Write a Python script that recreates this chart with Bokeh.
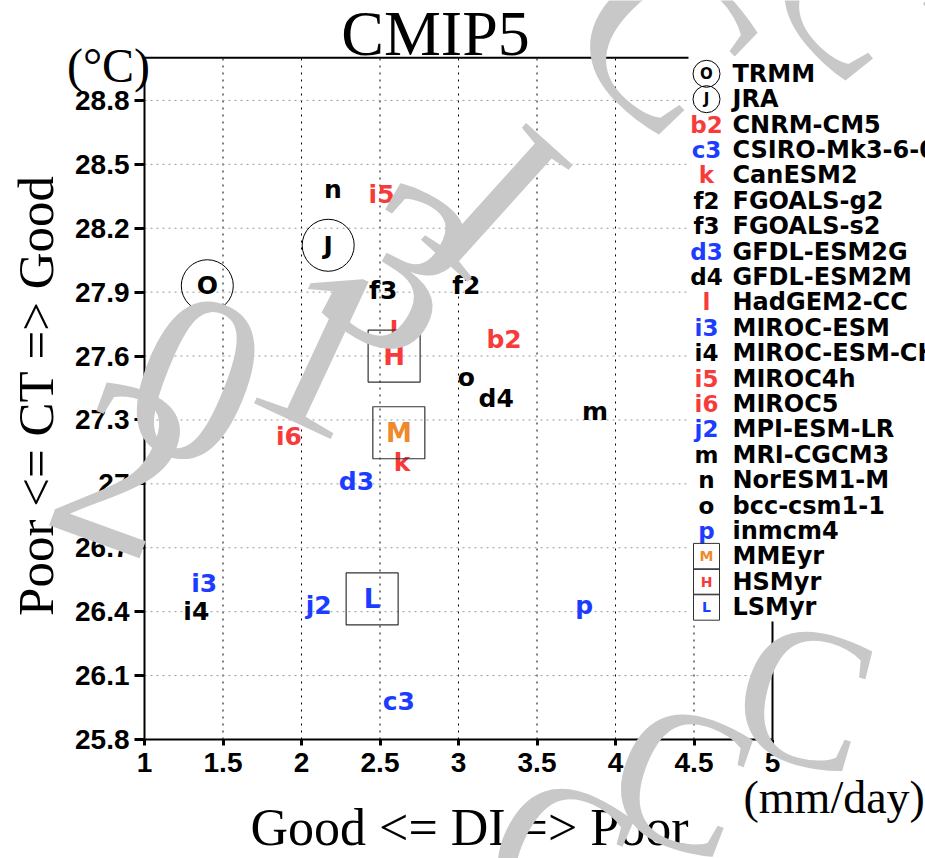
import math
from bokeh.plotting import figure
from bokeh.models import ColumnDataSource, FixedTicker, Label, Range1d, GridBox
from bokeh.core.properties import value
from bokeh.embed import file_html
from bokeh.resources import INLINE

# ---------------- data ----------------
model_names = ["CNRM-CM5", "CSIRO-Mk3-6-0", "CanESM2", "FGOALS-g2", "FGOALS-s2",
               "GFDL-ESM2G", "GFDL-ESM2M", "HadGEM2-CC", "MIROC-ESM", "MIROC-ESM-CHEM",
               "MIROC4h", "MIROC5", "MPI-ESM-LR", "MRI-CGCM3", "NorESM1-M",
               "bcc-csm1-1", "inmcm4"]
model_codes = ["b2", "c3", "k", "f2", "f3", "d3", "d4", "l", "i3", "i4",
               "i5", "i6", "j2", "m", "n", "o", "p"]
model_group = ["red", "blue", "red", "black", "black", "blue", "black", "red", "blue", "black",
               "red", "red", "blue", "black", "black", "black", "blue"]
model_di = [3.29, 2.62, 2.64, 3.05, 2.52, 2.35, 3.24, 2.59, 1.38, 1.33,
            2.51, 1.92, 2.11, 3.87, 2.20, 3.05, 3.80]
model_ct = [27.68, 25.98, 27.10, 27.93, 27.91, 27.01, 27.40, 27.72, 26.53, 26.40,
            28.36, 27.22, 26.43, 27.34, 28.38, 27.50, 26.43]

obs_names = ["TRMM", "JRA"]
obs_codes = ["O", "J"]
obs_di = [1.40, 2.17]
obs_ct = [27.93, 28.12]

ens_names = ["MMEyr", "HSMyr", "LSMyr"]
ens_codes = ["M", "H", "L"]
ens_group = ["orange", "red", "blue"]
ens_di = [2.62, 2.59, 2.45]
ens_ct = [27.24, 27.60, 26.46]

x_ticks = [1, 1.5, 2, 2.5, 3, 3.5, 4, 4.5, 5]
x_tick_labels = ["1", "1.5", "2", "2.5", "3", "3.5", "4", "4.5", "5"]
y_ticks = [25.8, 26.1, 26.4, 26.7, 27.0, 27.3, 27.6, 27.9, 28.2, 28.5, 28.8]
y_tick_labels = ["25.8", "26.1", "26.4", "26.7", "27", "27.3", "27.6", "27.9", "28.2", "28.5", "28.8"]
x_lo, x_hi = 1.0, 5.0
y_lo, y_hi = 25.8, 29.0

palette = {"red": "#f73b3b", "blue": "#1c3dff", "black": "#000000", "orange": "#ee8a2b"}

# ---------------- layout ----------------
W, H = 925, 858
LEFT, TOP, BOTTOM = 144, 50, 119
frame_w = W - LEFT
frame_h = H - TOP - BOTTOM
px_per_x = 157.0
top_line_px = 57.3
px_per_y = (H - BOTTOM - top_line_px) / (y_hi - y_lo)
x_end = x_lo + frame_w / px_per_x
y_end = y_lo + frame_h / px_per_y


def X(px):
    """canvas pixel column -> data x"""
    return x_lo + (px - LEFT) / px_per_x


def Y(py):
    """canvas pixel row -> data y"""
    return y_lo + (H - BOTTOM - py) / px_per_y


def no_frame_align(fig):
    # keep each figure's own frame when two plots share a grid cell
    try:
        fig.frame_align = False
    except AttributeError:
        pass


p = figure(width=W, height=H, x_range=Range1d(x_lo, x_end), y_range=Range1d(y_lo, y_end),
           output_backend="svg", toolbar_location=None, title=None,
           min_border_left=LEFT, min_border_right=0, min_border_top=TOP, min_border_bottom=BOTTOM)
no_frame_align(p)
p.outline_line_color = None
p.background_fill_color = "white"
p.border_fill_color = "white"
p.xgrid.visible = False
p.ygrid.visible = False

# axes
p.xaxis.ticker = FixedTicker(ticks=x_ticks)
p.xaxis.major_label_overrides = dict(zip(x_ticks, x_tick_labels))
p.xaxis.bounds = (x_lo, x_hi)
p.xaxis.major_tick_out = 6
p.xaxis.major_tick_in = 0
p.xaxis.major_label_standoff = 7
p.yaxis.ticker = FixedTicker(ticks=y_ticks)
p.yaxis.major_label_overrides = dict(zip(y_ticks, y_tick_labels))
p.yaxis.bounds = (y_lo, y_hi)
p.yaxis.major_tick_out = 10
p.yaxis.major_tick_in = 0
p.yaxis.major_label_standoff = 5
for ax in (p.xaxis, p.yaxis):
    ax.minor_tick_line_color = None
    ax.axis_line_width = 2
    ax.major_tick_line_width = 3
    ax.major_label_text_font = "Liberation Sans"
    ax.major_label_text_font_style = "bold"
    ax.major_label_text_font_size = "28px"
    ax.major_label_text_color = "black"

# dotted grid
inner_x = [t for t in x_ticks if x_lo < t < x_hi]
p.segment(x0=inner_x, y0=[y_lo] * len(inner_x), x1=inner_x, y1=[y_hi] * len(inner_x),
          line_color="black", line_width=1, line_dash="2 5")
p.segment(x0=[x_lo] * len(y_ticks), y0=y_ticks, x1=[x_hi] * len(y_ticks), y1=y_ticks,
          line_color="#9a9a9a", line_width=1, line_dash="2 4")

# top and right frame lines
p.segment(x0=[x_lo, x_hi], y0=[y_hi, y_lo], x1=[x_hi, x_hi], y1=[y_hi, y_hi],
          line_color="black", line_width=2)

# model scatter as coloured text codes
src = ColumnDataSource(dict(x=model_di, y=model_ct, t=model_codes,
                            c=[palette[g] for g in model_group]))
p.text(x="x", y="y", text="t", text_color="c", source=src,
       text_font=value("DejaVu Sans"), text_font_style="bold", text_font_size="25px",
       text_align="center", text_baseline="middle")

# observations: circled letters
p.scatter(x=obs_di, y=obs_ct, marker="circle", size=52, fill_color=None,
          line_color="black", line_width=1)
p.text(x=obs_di, y=obs_ct, text=obs_codes, text_color="black",
       text_font=value("DejaVu Sans"), text_font_style="bold", text_font_size="25px",
       text_align="center", text_baseline="middle")

# ensemble means: boxed letters
p.scatter(x=ens_di, y=ens_ct, marker="square", size=52, fill_color=None,
          line_color="#333333", line_width=1.2)
p.text(x=ens_di, y=ens_ct, text=ens_codes, text_color=[palette[g] for g in ens_group],
       text_font=value("DejaVu Sans"), text_font_style="bold", text_font_size="26px",
       text_align="center", text_baseline="middle")

# ---------------- legend ----------------
leg_left, leg_bottom = 688, 621
p.quad(left=[X(leg_left)], right=[x_end], bottom=[Y(leg_bottom)], top=[y_end],
       fill_color="white", line_color=None)

row0, row_step = 73.3, 25.4
mark_px, name_px = 706, 732
leg_names = obs_names + model_names + ens_names
rows_y = [Y(row0 + row_step * i) for i in range(len(leg_names))]
n_obs, n_mod = len(obs_names), len(model_names)

p.text(x=[X(name_px)] * len(leg_names), y=rows_y, text=leg_names, text_color="black",
       text_font=value("DejaVu Sans"), text_font_style="bold", text_font_size="24px",
       text_align="left", text_baseline="middle")

obs_rows = rows_y[:n_obs]
p.scatter(x=[X(mark_px)] * n_obs, y=obs_rows, marker="circle", size=27,
          fill_color=None, line_color="black", line_width=1)
p.text(x=[X(mark_px)] * n_obs, y=obs_rows, text=obs_codes, text_color="black",
       text_font=value("DejaVu Sans"), text_font_style="bold", text_font_size="15px",
       text_align="center", text_baseline="middle")

mod_rows = rows_y[n_obs:n_obs + n_mod]
p.text(x=[X(mark_px)] * n_mod, y=mod_rows, text=model_codes,
       text_color=[palette[g] for g in model_group],
       text_font=value("DejaVu Sans"), text_font_style="bold", text_font_size="23px",
       text_align="center", text_baseline="middle")

ens_rows = rows_y[n_obs + n_mod:]
p.scatter(x=[X(mark_px)] * len(ens_rows), y=ens_rows, marker="square", size=26,
          fill_color=None, line_color="#333333", line_width=1)
p.text(x=[X(mark_px)] * len(ens_rows), y=ens_rows, text=ens_codes,
       text_color=[palette[g] for g in ens_group],
       text_font=value("DejaVu Sans"), text_font_style="bold", text_font_size="14px",
       text_align="center", text_baseline="middle")

# ---------------- overlay: titles and watermark ----------------
# A transparent full-canvas figure stacked on top of the chart, in pixel units
ov = figure(width=W, height=H, x_range=Range1d(0, W), y_range=Range1d(0, H),
            output_backend="svg", toolbar_location=None, title=None,
            x_axis_type=None, y_axis_type=None, min_border=0)
no_frame_align(ov)
ov.outline_line_color = None
ov.background_fill_color = None
ov.border_fill_color = None
ov.xgrid.visible = False
ov.ygrid.visible = False

serif = "Liberation Serif"
LIFT = 0.35  # alphabetic anchor sits this many em below the drawn baseline


def put(text, cx, cy, size, align="center", baseline="alphabetic", angle=0.0,
        color="black", lift=True):
    # shift the anchor "up" in the text's own frame
    d = LIFT * size if lift else 0.0
    ax_ = cx - d * math.sin(angle)
    ay_ = (H - cy) + d * math.cos(angle)
    ov.add_layout(Label(x=ax_, y=ay_, text=text, angle=angle, text_font=serif,
                        text_font_size=f"{size}px", text_align=align,
                        text_baseline=baseline, text_color=color))


put("CMIP5", 435, 55, 64)
put("(°C)", 108, 82, 48)
put("Poor <= CT => Good", 53, 395, 51, angle=math.pi / 2)
put("Good <= DI => Poor", 469, 845, 52)
put("(mm/day)", 743, 813, 46, align="left")

# (glyph, canvas x, canvas y, rotation in degrees, size)
watermark = [
    ("2", 122, 468, -20, 240),
    ("0", 195, 380, -22, 240),
    ("1", 322, 348, -25, 240),
    ("3", 400, 270, -30, 240),
    ("I", 498, 200, -42, 240),
    ("C", 665, 38, -45, 230),
    ("C", 860, -15, -50, 230),
    ("C", 805, 695, -15, 200),
    ("C", 682, 778, -20, 200),
    ("C", 560, 852, -25, 200),
]
for ch, wx, wy, deg, sz in watermark:
    put(ch, wx, wy, sz, baseline="middle", angle=math.radians(deg), color="#c8c8c8",
        lift=False)

page = GridBox(children=[(p, 0, 0), (ov, 0, 0)])
open("out.html", "w").write(file_html(page, INLINE))
